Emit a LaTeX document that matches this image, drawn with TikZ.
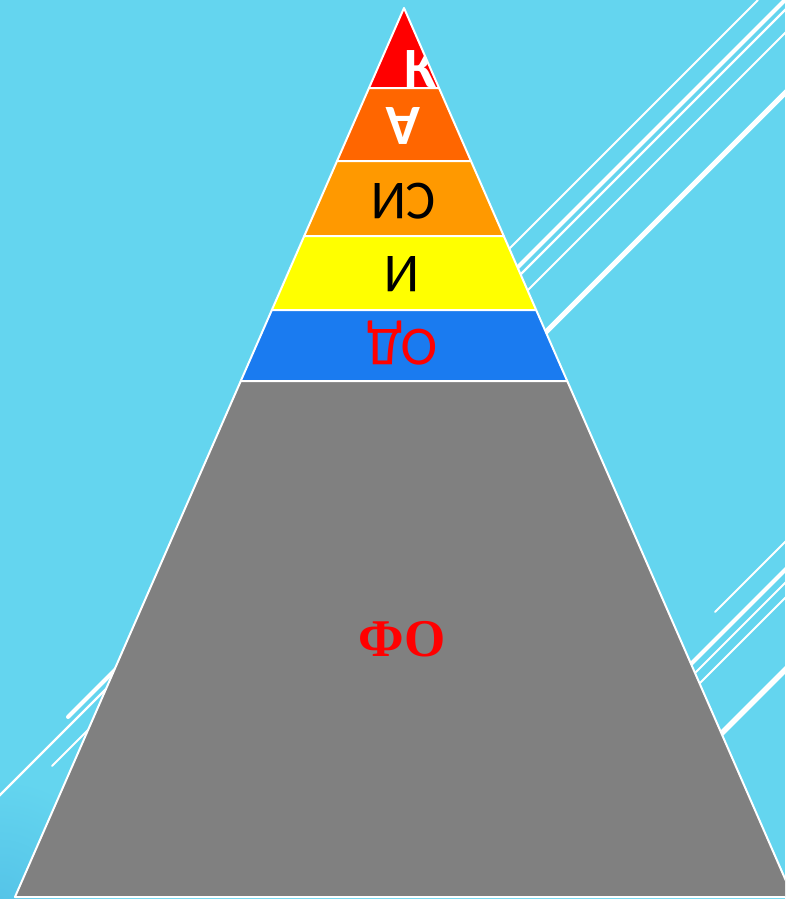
\documentclass[tikz,border=0pt]{standalone}
\usepackage{fontspec}
\setmainfont{Carlito}
\newfontfamily\serifcyr{Liberation Serif}
\definecolor{sky}{HTML}{64D5EF}
\definecolor{skydark}{HTML}{55C4E8}
\definecolor{tierred}{HTML}{FF0000}
\definecolor{tierorange}{HTML}{FF6600}
\definecolor{tiergold}{HTML}{FF9900}
\definecolor{tieryellow}{HTML}{FFFF00}
\definecolor{tierblue}{HTML}{1A7BF0}
\definecolor{tiergray}{HTML}{808080}
\tikzset{stripe/.style={white,line width=#1},
  tierlbl/.style={inner sep=0pt,anchor=base,rotate=180,font=\fontsize{55}{55}\selectfont}}
\begin{document}
\begin{tikzpicture}[x=1pt,y=-1pt]
\useasboundingbox (0,0) rectangle (785,899);
\clip (0,0) rectangle (785,899);
\fill[sky] (0,0) rectangle (785,899);
\shade[inner color=skydark,outer color=sky] (0,899) circle (120);
% stripes behind the pyramid
\draw[stripe=2] (758,0)--(300,458);\draw[stripe=4,line cap=round] (800,-15)--(68,717);
\draw[stripe=2.2] (800,-5)--(-10,805);\draw[stripe=2,line cap=round] (800,18)--(52,766);\draw[stripe=5] (800,78)--(300,578);
\draw[stripe=2,line cap=round] (715,612)--(800,527);\draw[stripe=4] (600,755)--(800,555);
\draw[stripe=2] (600,768)--(800,568);\draw[stripe=2] (600,783)--(800,583);\draw[stripe=5.5] (650,805)--(800,655);
% pyramid tiers
\foreach \ya/\yb/\c in {8/88/tierred,88/161/tierorange,161/236/tiergold,236/310/tieryellow,310/381/tierblue,381/897/tiergray}{
\fill[\c,draw=white,line width=2,line join=round] ({404-.4376*(\ya-8)},\ya)--({404+.4376*(\ya-8)},\ya)--({404+.4376*(\yb-8)},\yb)--({404-.4376*(\yb-8)},\yb)--cycle;}
\begin{scope}\clip (404,9)--(438,87)--(370,87)--cycle;
\node[inner sep=0pt,anchor=base,white,font=\fontsize{57}{57}\selectfont\bfseries] (k) at (421,87) {К};
\end{scope}
\node[tierlbl,white,font=\fontsize{57}{57}\selectfont\bfseries] (a) at (403,107) {А};
\node[tierlbl] (si) at (403.5,183) {СИ};
\node[tierlbl] (i) at (402,256) {И};
\node[tierlbl,tierred] (od) at (402,329) {ОД};
\node[inner sep=0pt,anchor=base,tierred,font=\fontsize{53}{53}\selectfont\serifcyr\bfseries] (fo) at (402,656) {ФО};
\end{tikzpicture}
\end{document}
